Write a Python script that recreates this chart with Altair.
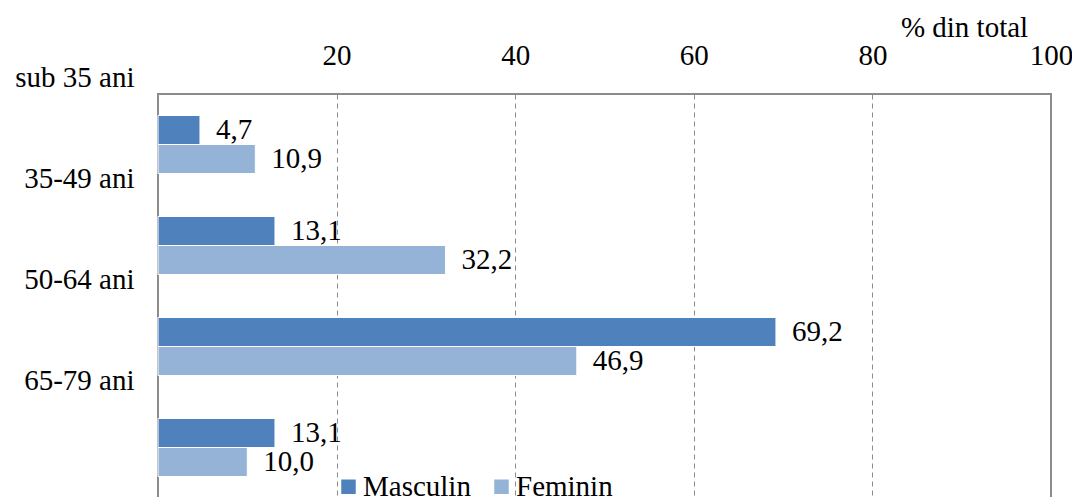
import altair as alt
import pandas as pd

categories = ["sub 35 ani", "35-49 ani", "50-64 ani", "65-79 ani"]
series = ["Masculin", "Feminin"]
masculin = [4.7, 13.1, 69.2, 13.1]
feminin = [10.9, 32.2, 46.9, 10.0]
tick_values = [20, 40, 60, 80, 100]

rows = []
for i, c in enumerate(categories):
    for s, vals in zip(series, [masculin, feminin]):
        v = vals[i]
        rows.append({"cat": c, "serie": s, "val": v, "lbl": f"{v:.1f}".replace(".", ",")})
df = pd.DataFrame(rows)

FONT = "'Liberation Serif', 'Times New Roman', 'DejaVu Serif', serif"
FS = 29

y_enc = alt.Y("cat:N", sort=categories,
              scale=alt.Scale(paddingInner=0.426, paddingOuter=0.213),
              axis=alt.Axis(title=None, ticks=False, domain=False, labelFont=FONT,
                            labelFontSize=FS, labelColor="#000000", labelPadding=24,
                            labelOffset=-67, labelAlign="right", labelBaseline="middle"))
yoff = alt.YOffset("serie:N", sort=series, scale=alt.Scale(paddingInner=0, paddingOuter=0))
x_enc = alt.X("val:Q", scale=alt.Scale(domain=[0, 100], nice=False),
              axis=alt.Axis(orient="top", values=tick_values, title="% din total",
                            titleFont=FONT, titleFontSize=FS, titleFontWeight="normal",
                            titleColor="#000000", titleX=806, titleY=-58,
                            titleAlign="center", titleBaseline="alphabetic",
                            titleAnchor="start",
                            labelFont=FONT, labelFontSize=FS, labelColor="#000000",
                            labelPadding=24, ticks=False, domain=False,
                            grid=True, gridDash=[5, 4], gridColor="#8c8c8c",
                            gridOpacity=alt.condition("datum.value >= 100", alt.value(0), alt.value(1)),
                            gridWidth=1, labelFlush=False))

bars = alt.Chart(df).mark_bar(stroke="#ffffff", strokeWidth=1).encode(
    x=x_enc,
    y=y_enc,
    yOffset=yoff,
    color=alt.Color("serie:N", sort=series,
                    scale=alt.Scale(domain=series, range=["#4F81BD", "#95B3D7"]),
                    legend=alt.Legend(title=None, orient="none", legendX=176, legendY=378,
                                      direction="horizontal", symbolType="square",
                                      symbolSize=210, symbolStrokeWidth=0, padding=0,
                                      labelFont=FONT, labelFontSize=FS,
                                      labelColor="#000000", labelOffset=0,
                                      columnPadding=16, symbolOffset=0,
                                      labelLimit=300)),
)

texts = alt.Chart(df).mark_text(align="left", baseline="middle", dx=16, dy=0,
                                font=FONT, fontSize=FS, color="#000000").encode(
    x=alt.X("val:Q"),
    y=alt.Y("cat:N", sort=categories),
    yOffset=alt.YOffset("serie:N", sort=series),
    text="lbl:N",
)

chart = alt.layer(bars, texts).properties(
    width=893, height=404,
    autosize=alt.AutoSizeParams(type="none"),
    padding={"left": 150, "top": 86, "right": 21, "bottom": 0},
    background="#ffffff",
).configure_view(stroke="#8c8c8c", strokeWidth=2)

chart.save("out.html", embed_options={"renderer": "svg", "actions": False})
